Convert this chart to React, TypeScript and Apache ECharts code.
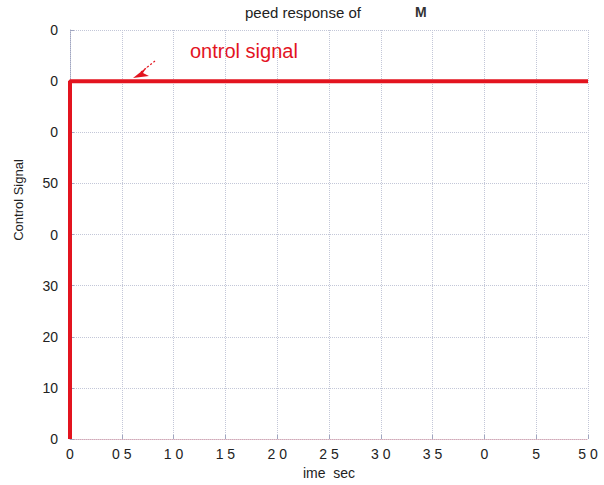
import React, { useEffect, useRef } from "react";
import * as echarts from "echarts";

const xTicks = [0, 0.5, 1, 1.5, 2, 2.5, 3, 3.5, 4, 4.5, 5];
const xTickLabels = ["0", "0 5", "1 0", "1 5", "2 0", "2 5", "3 0", "3 5", "0", "5", "5 0"];
const yTicks = [0, 10, 20, 30, 40, 50, 60, 70, 80];
const yTickLabels = ["0", "10", "20", "30", "0", "50", "0", "0", "0"];
const timeValues = [0, 0, 5];
const controlValues = [0, 70, 70];

const RED = "#e3141f";
const FONT = "Liberation Sans, Arial, sans-serif";
const GRID = "#c3c7d8";

export default function App() {
  const ref = useRef<HTMLDivElement>(null);
  useEffect(() => {
    if (!ref.current) return;
    const chart = echarts.init(ref.current, undefined, { renderer: "svg" });
    const lookup = (ticks: number[], labels: string[], v: number) => {
      const i = ticks.findIndex((t) => Math.abs(t - v) < 1e-6);
      return i >= 0 ? labels[i] : "";
    };
    chart.setOption({
      animation: false,
      backgroundColor: "#ffffff",
      title: [
        {
          text: "peed response of",
          left: 245,
          top: 5,
          padding: 0,
          textStyle: { fontFamily: FONT, fontSize: 15, fontWeight: "normal", color: "#222" },
        },
        {
          text: "M",
          left: 415,
          top: 5,
          padding: 0,
          textStyle: { fontFamily: FONT, fontSize: 14, fontWeight: "bold", color: "#333" },
        },
      ],
      grid: { left: 70, right: 16, top: 30, bottom: 46, containLabel: false },
      xAxis: {
        type: "value",
        min: 0,
        max: 5,
        interval: 0.5,
        name: "ime  sec",
        nameLocation: "middle",
        nameGap: 25,
        nameTextStyle: { fontFamily: FONT, fontSize: 14, color: "#222" },
        axisLine: { show: true, lineStyle: { color: "#d0a8b8", type: "dotted", width: 1 } },
        axisTick: { show: true, inside: true, length: 4, lineStyle: { color: "#a0a6c0" } },
        axisLabel: {
          fontFamily: FONT,
          fontSize: 14,
          color: "#222",
          margin: 8,
          formatter: (v: number) => lookup(xTicks, xTickLabels, v),
        },
        splitLine: { show: true, lineStyle: { color: GRID, type: "dotted", width: 1 } },
      },
      yAxis: {
        type: "value",
        min: 0,
        max: 80,
        interval: 10,
        axisLine: { show: true, lineStyle: { color: "#a0a6c0", type: "dotted", width: 1 } },
        axisTick: { show: true, inside: true, length: 4, lineStyle: { color: "#a0a6c0" } },
        axisLabel: {
          fontFamily: FONT,
          fontSize: 14,
          color: "#222",
          margin: 12,
          formatter: (v: number) => lookup(yTicks, yTickLabels, v),
        },
        splitLine: { show: true, lineStyle: { color: GRID, type: "dotted", width: 1 } },
      },
      series: [
        {
          type: "line",
          name: "Control signal",
          data: timeValues.map((t, i) => [t, controlValues[i]]),
          showSymbol: false,
          symbol: "none",
          lineStyle: { color: RED, width: 4 },
          itemStyle: { color: RED },
          z: 5,
        },
      ],
      graphic: [
        {
          type: "text",
          x: 18,
          y: 200,
          rotation: Math.PI / 2,
          style: {
            text: "Control Signal",
            fill: "#222",
            fontFamily: FONT,
            fontSize: 13,
            align: "center",
            verticalAlign: "middle",
          },
        },
        {
          type: "text",
          left: 190,
          top: 41,
          style: { text: "ontrol signal", fill: RED, fontFamily: FONT, fontSize: 20 },
        },
        {
          type: "line",
          shape: { x1: 155, y1: 61, x2: 141, y2: 72 },
          style: { stroke: RED, lineWidth: 1.2, lineDash: [2, 2] },
        },
        {
          type: "polygon",
          shape: { points: [[133, 78], [147, 67], [143, 73], [149, 76]] },
          style: { fill: RED },
        },
      ],
    });
    return () => chart.dispose();
  }, []);
  return (
    <div
      ref={ref}
      style={{ position: "fixed", left: 0, top: 0, width: 604, height: 485 }}
    />
  );
}
